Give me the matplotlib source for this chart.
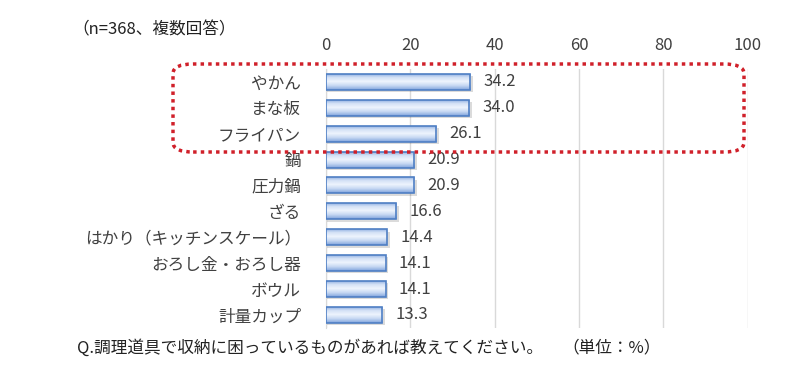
import matplotlib
matplotlib.use("Agg")
import matplotlib.pyplot as plt
import numpy as np
from matplotlib.patches import FancyBboxPatch
from matplotlib.colors import LinearSegmentedColormap

plt.rcParams['font.family'] = ['Noto Sans CJK JP', 'DejaVu Sans']

categories = ["やかん", "まな板", "フライパン", "鍋", "圧力鍋", "ざる",
              "はかり（キッチンスケール）", "おろし金・おろし器", "ボウル", "計量カップ"]
values = [34.2, 34.0, 26.1, 20.9, 20.9, 16.6, 14.4, 14.1, 14.1, 13.3]
xticks = [0, 20, 40, 60, 80, 100]

fig = plt.figure(figsize=(8.05, 3.83), dpi=100)
ax = fig.add_axes([0.405, 0.144, 0.524, 0.676])

n = len(categories)
ypos = np.arange(n)
bh = 0.62
cmap = LinearSegmentedColormap.from_list("g", ["#7fa3dc", "#d3e1f6", "#eef4fd", "#c5d7f2", "#7fa3dc"])
grad = np.linspace(0, 1, 64).reshape(-1, 1)
for y, v in zip(ypos, values):
    ax.barh(y + 0.09, v + 0.4, height=bh, left=0.3, color="#000000", alpha=0.14, zorder=2)
    bar = ax.barh(y, v, height=bh, color="none", edgecolor="#4f7fc4", linewidth=1.2, zorder=4)[0]
    im = ax.imshow(grad, cmap=cmap, extent=[0, v, y + bh / 2, y - bh / 2], aspect="auto", zorder=3)
    im.set_clip_path(bar)
    ax.text(v + 3.2, y, f"{v:.1f}", va="center", ha="left", fontsize=12, color="#404040")

ax.set_xlim(0, 100)
ax.set_ylim(n - 0.5, -0.5)
ax.set_xticks(xticks)
ax.xaxis.tick_top()
ax.tick_params(axis="x", length=0, labelsize=12, labelcolor="#404040", pad=11)
ax.set_yticks(ypos)
ax.set_yticklabels(categories, fontsize=12, color="#404040")
ax.tick_params(axis="y", length=0, pad=18)
ax.grid(axis="x", color="#d9d9d9", linewidth=1)
ax.set_axisbelow(True)
for s in ["top", "right", "bottom"]:
    ax.spines[s].set_visible(False)
ax.spines["left"].set_color("#d9d9d9")

fig.text(72 / 805, 1 - 30 / 383, "（n=368、複数回答）", fontsize=12, color="#222222", va="center", ha="left")
fig.text(77 / 805, 1 - 348 / 383, "Q.調理道具で収納に困っているものがあれば教えてください。", fontsize=12,
         color="#222222", va="center", ha="left")
fig.text(562 / 805, 1 - 348 / 383, "（単位：%）", fontsize=12, color="#222222", va="center", ha="left")

box = FancyBboxPatch((173 / 805, 1 - 152 / 383), (744 - 173) / 805, (152 - 64) / 383,
                     boxstyle="round,pad=0,rounding_size=0.025", transform=fig.transFigure,
                     fill=False, edgecolor="#d0202a", linestyle=(0, (1, 1.2)), linewidth=2.5, zorder=10)
fig.add_artist(box)

fig.savefig("out.png", dpi=100)
